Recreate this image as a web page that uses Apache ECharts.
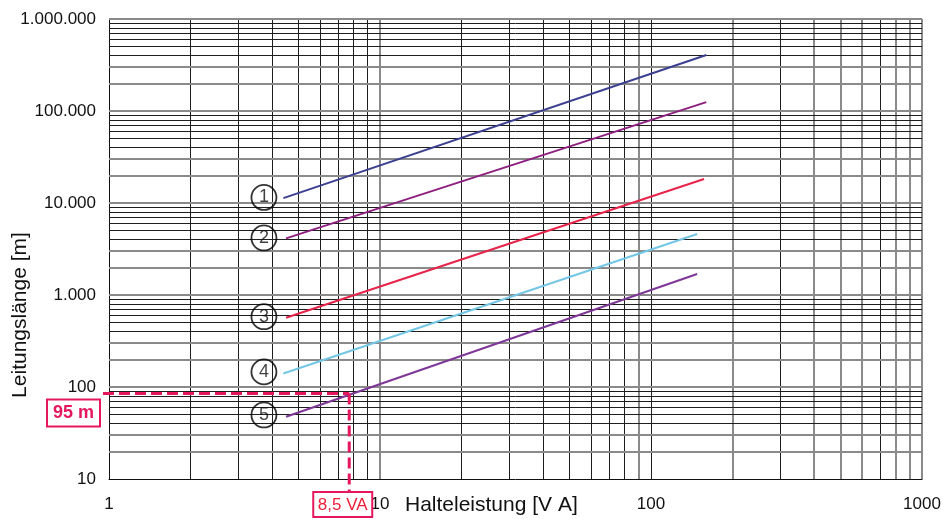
<!DOCTYPE html>
<html>
<head>
<meta charset="utf-8">
<script src="https://cdn.jsdelivr.net/npm/echarts@6/dist/echarts.min.js"></script>
<style>
html,body{margin:0;padding:0;background:#fff;}
#main{width:945px;height:519px;}
</style>
</head>
<body>
<div id="main"></div>
<script>
// ---- data ----
const xTickLabels = ['1', '10', '100', '1000'];
const yTickLabels = ['10', '100', '1.000', '10.000', '100.000', '1.000.000'];
const curveNames = ['1', '2', '3', '4', '5'];
const curveX = [[4.4, 160], [4.5, 160], [4.5, 157], [4.4, 148], [4.5, 148]];
const curveY = [[11300, 406000], [4130, 125000], [566, 18200], [140, 4600], [47.5, 1690]];
const labelX = [3.73, 3.73, 3.73, 3.73, 3.73];
const labelY = [11500, 4170, 581, 146, 49.7];
const guideX = 7.7;
const guideY = 85;
const guideXText = '8,5 VA';
const guideYText = '95 m';
const xAxisTitle = 'Halteleistung [V A]';
const yAxisTitle = 'Leitungslänge [m]';
const xDecades = [1, 10, 100];
const yDecades = [10, 100, 1000, 10000, 100000];
const multipliers = [1, 2, 3, 4, 5, 6, 7, 8, 9];

// ---- styles ----
const FONT = "'Liberation Sans', Arial, sans-serif";
const curveColors = ['#3b3f8f', '#8e1f80', '#e8234a', '#74c6e6', '#7f3797'];
const guideColor = '#e5185d';
const GRAY = {color: '#8a8a8a', width: 2, type: 'solid'};
const DARK = {color: '#1e1e1e', width: 1, type: 'solid'};

function vStyle(d, m) {
  if (d === 1) return DARK;
  if (d === 10) return (m === 1 || m === 9) ? GRAY : DARK;
  return (m === 1 || m === 3 || m === 7) ? DARK : GRAY;
}
function hStyle(d, m) {
  return (m === 1 || m === 2 || m === 3) ? GRAY : DARK;
}

const vLines = [];
xDecades.forEach(d => multipliers.forEach(m => {
  if (d * m > 1) vLines.push({xAxis: d * m, lineStyle: vStyle(d, m)});
}));
vLines.push({xAxis: 1000, lineStyle: GRAY});
const hLines = [];
yDecades.forEach(d => multipliers.forEach(m => {
  if (d * m > 10) hLines.push({yAxis: d * m, lineStyle: hStyle(d, m)});
}));
hLines.push({yAxis: 1000000, lineStyle: GRAY});

const series = [{
  type: 'line', name: 'grid', data: [], z: 1, silent: true,
  markLine: {silent: true, symbol: ['none', 'none'], label: {show: false},
    animation: false, data: vLines.concat(hLines)}
}];
curveNames.forEach((n, i) => {
  series.push({
    type: 'line', name: 'Kurve ' + n, z: 5, symbol: 'none', silent: true,
    lineStyle: {color: curveColors[i], width: 2},
    data: [[curveX[i][0], curveY[i][0]], [curveX[i][1], curveY[i][1]]]
  });
});
series.push({
  type: 'scatter', name: 'labels', z: 6, symbol: 'circle', symbolSize: 25, silent: true,
  itemStyle: {color: 'rgba(255,255,255,0)', borderColor: '#000', borderWidth: 1.8},
  label: {show: true, position: 'inside', formatter: p => p.value[2],
    color: '#111', fontSize: 18, fontFamily: FONT},
  data: curveNames.map((n, i) => [labelX[i], labelY[i], n])
});

const chart = echarts.init(document.getElementById('main'), null, {renderer: 'canvas'});
const option = {
  animation: false,
  backgroundColor: '#fff',
  grid: {left: 109, right: 23, top: 19, bottom: 40, containLabel: false},
  xAxis: {
    type: 'log', logBase: 10, min: 1, max: 1000,
    axisLine: {show: true, onZero: false, lineStyle: {color: '#111', width: 1}},
    axisTick: {show: false}, splitLine: {show: false},
    axisLabel: {show: true, margin: 17, color: '#111', fontSize: 17, fontFamily: FONT,
      showMaxLabel: true, showMinLabel: true,
      formatter: v => xTickLabels[Math.round(Math.log10(v))]}
  },
  yAxis: {
    type: 'log', logBase: 10, min: 10, max: 1000000,
    axisLine: {show: true, onZero: false, lineStyle: {color: '#111', width: 1}},
    axisTick: {show: false}, splitLine: {show: false},
    axisLabel: {show: true, margin: 13, color: '#111', fontSize: 17, fontFamily: FONT,
      showMaxLabel: true, showMinLabel: true,
      formatter: v => yTickLabels[Math.round(Math.log10(v)) - 1]}
  },
  series: series
};
chart.setOption(option);

const p = chart.convertToPixel({gridIndex: 0}, [guideX, guideY]);
const o = chart.convertToPixel({gridIndex: 0}, [1, 10]);
const dash = {stroke: guideColor, lineWidth: 3, lineDash: [11, 5]};
chart.setOption({
  graphic: [
    {type: 'line', z: 50, silent: true, shape: {x1: o[0] - 6, y1: p[1], x2: p[0], y2: p[1]}, style: dash},
    {type: 'line', z: 50, silent: true, shape: {x1: p[0], y1: p[1], x2: p[0], y2: o[1] + 13}, style: dash},
    {type: 'rect', z: 60, silent: true, shape: {x: o[0] - 62, y: p[1] + 6, width: 53, height: 27},
      style: {fill: '#fff', stroke: guideColor, lineWidth: 2}},
    {type: 'text', z: 61, silent: true, x: o[0] - 35.5, y: p[1] + 20,
      style: {text: guideYText, fill: guideColor, font: 'bold 18px ' + FONT, textAlign: 'center', textVerticalAlign: 'middle'}},
    {type: 'rect', z: 60, silent: true, shape: {x: p[0] - 36, y: o[1] + 13, width: 59, height: 25},
      style: {fill: '#fff', stroke: guideColor, lineWidth: 2}},
    {type: 'text', z: 61, silent: true, x: p[0] - 6.5, y: o[1] + 26,
      style: {text: guideXText, fill: '#ee1d3a', font: '17px ' + FONT, textAlign: 'center', textVerticalAlign: 'middle'}},
    {type: 'text', z: 10, silent: true, x: 405, y: 505,
      style: {text: xAxisTitle, fill: '#111', font: '21px ' + FONT, textAlign: 'left', textVerticalAlign: 'middle'}},
    {type: 'text', z: 10, silent: true, x: 20, y: 315, rotation: Math.PI / 2,
      style: {text: yAxisTitle, fill: '#111', font: '21px ' + FONT, textAlign: 'center', textVerticalAlign: 'middle'}}
  ]
});
</script>
</body>
</html>
